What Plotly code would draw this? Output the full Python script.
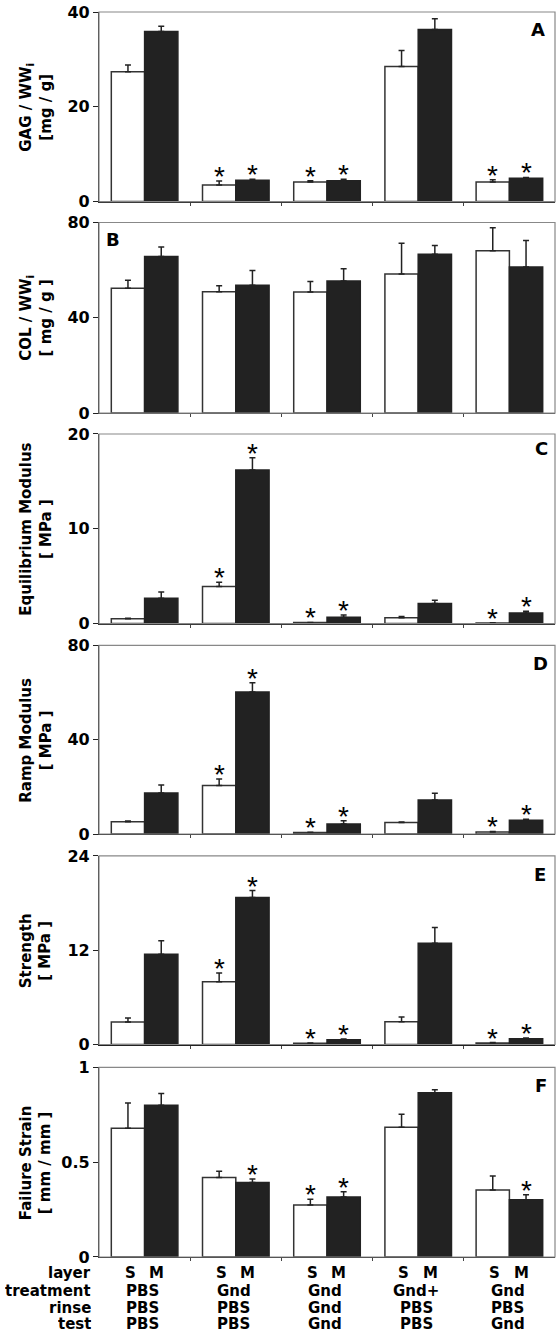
import plotly.graph_objects as go

# ---------------- data ----------------
categories = [0, 1, 2, 3, 4]
layer_labels = ["S", "M"]
treatment = ["PBS", "Gnd", "Gnd", "Gnd+", "Gnd"]
rinse = ["PBS", "PBS", "Gnd", "PBS", "PBS"]
test = ["PBS", "PBS", "Gnd", "PBS", "Gnd"]

gag_s = [27.4, 3.5, 4.1, 28.5, 4.1]
gag_s_sd = [1.4, 0.85, 0.3, 3.4, 0.5]
gag_m = [35.9, 4.5, 4.4, 36.3, 4.9]
gag_m_sd = [1.1, 0.2, 0.3, 2.3, 0.2]

col_s = [52.4, 50.9, 50.8, 58.4, 68.1]
col_s_sd = [3.4, 2.5, 4.4, 12.9, 9.7]
col_m = [65.7, 53.6, 55.4, 66.7, 61.3]
col_m_sd = [4.0, 6.2, 5.2, 3.6, 11.1]

eq_s = [0.5, 3.9, 0.1, 0.6, 0.05]
eq_s_sd = [0.05, 0.45, 0.02, 0.15, 0.02]
eq_m = [2.66, 16.2, 0.66, 2.1, 1.1]
eq_m_sd = [0.67, 1.3, 0.24, 0.35, 0.2]

ramp_s = [5.2, 20.6, 0.6, 4.9, 0.9]
ramp_s_sd = [0.3, 2.7, 0.1, 0.2, 0.2]
ramp_m = [17.4, 60.3, 4.2, 14.4, 5.8]
ramp_m_sd = [3.4, 3.9, 1.4, 2.9, 0.5]

str_s = [2.88, 8.0, 0.15, 2.9, 0.2]
str_s_sd = [0.5, 1.1, 0.05, 0.6, 0.05]
str_m = [11.5, 18.7, 0.6, 12.9, 0.72]
str_m_sd = [1.7, 0.9, 0.1, 2.0, 0.1]

fs_s = [0.679, 0.42, 0.275, 0.684, 0.353]
fs_s_sd = [0.133, 0.033, 0.03, 0.069, 0.075]
fs_m = [0.80, 0.393, 0.316, 0.867, 0.302]
fs_m_sd = [0.062, 0.019, 0.028, 0.016, 0.026]

sig_a_s = [0, 1, 1, 0, 1]; sig_a_m = [0, 1, 1, 0, 1]
sig_b_s = [0, 0, 0, 0, 0]; sig_b_m = [0, 0, 0, 0, 0]
sig_c_s = [0, 1, 1, 0, 1]; sig_c_m = [0, 1, 1, 0, 1]
sig_d_s = [0, 1, 1, 0, 1]; sig_d_m = [0, 1, 1, 0, 1]
sig_e_s = [0, 1, 1, 0, 1]; sig_e_m = [0, 1, 1, 0, 1]
sig_f_s = [0, 0, 1, 0, 0]; sig_f_m = [0, 1, 1, 0, 1]

ytitles = [
    "GAG / WW<sub>i</sub><br>[mg / g]",
    "COL / WW<sub>i</sub><br>[ mg / g ]",
    "Equilibrium Modulus<br>[ MPa ]",
    "Ramp Modulus<br>[ MPa ]",
    "Strength<br>[ MPa ]",
    "Failure Strain<br>[ mm / mm ]",
]
yticks = [[0, 20, 40], [0, 40, 80], [0, 10, 20], [0, 40, 80], [0, 12, 24], [0, 0.5, 1]]
yticktext = [["0", "20", "40"], ["0", "40", "80"], ["0", "10", "20"],
             ["0", "40", "80"], ["0", "12", "24"], ["0", "0.5", "1"]]
panel_letters = ["A", "B", "C", "D", "E", "F"]

panels = [
    (gag_s, gag_s_sd, gag_m, gag_m_sd, sig_a_s, sig_a_m),
    (col_s, col_s_sd, col_m, col_m_sd, sig_b_s, sig_b_m),
    (eq_s, eq_s_sd, eq_m, eq_m_sd, sig_c_s, sig_c_m),
    (ramp_s, ramp_s_sd, ramp_m, ramp_m_sd, sig_d_s, sig_d_m),
    (str_s, str_s_sd, str_m, str_m_sd, sig_e_s, sig_e_m),
    (fs_s, fs_s_sd, fs_m, fs_m_sd, sig_f_s, sig_f_m),
]

# ---------------- layout geometry ----------------
W, H = 558, 1342
ML, MR, MT, MB = 99, 3, 9, 85
PH = H - MT - MB
panel_px = [(9, 199), (220, 411), (432, 622), (644, 833), (855, 1044), (1067, 1257)]


def py(pix):
    return (H - MB - pix) / PH


def px(pix):
    return (pix - ML) / (W - ML - MR)


FONT = "DejaVu Sans, Verdana, sans-serif"
STAR_FONT = "Liberation Sans, Arial, sans-serif"
BARGAP = 0.27
half = (1 - BARGAP) / 4  # offset from category centre to bar centre

fig = go.Figure()
annotations = []
shapes = []

for k, (s, ssd, m, msd, sigs, sigm) in enumerate(panels):
    n = k + 1
    xa = "x" if n == 1 else f"x{n}"
    ya = "y" if n == 1 else f"y{n}"
    fig.add_trace(go.Bar(
        x=categories, y=s, name="S", xaxis=xa, yaxis=ya, showlegend=False,
        marker=dict(color="white", line=dict(color="#333", width=1.5)),
        error_y=dict(type="data", symmetric=False, array=ssd, arrayminus=[0] * len(ssd),
                     color="#222", thickness=1.5, width=3),
    ))
    fig.add_trace(go.Bar(
        x=categories, y=m, name="M", xaxis=xa, yaxis=ya, showlegend=False,
        marker=dict(color="#222", line=dict(color="#222", width=1.5)),
        error_y=dict(type="data", symmetric=False, array=msd, arrayminus=[0] * len(msd),
                     color="#222", thickness=1.5, width=3),
    ))
    top, bot = panel_px[k]
    lay_x = dict(domain=[0, 1], range=[-0.5, 4.5], anchor=ya, showgrid=False, zeroline=False,
                 showline=True, linecolor="#222", linewidth=1.2,
                 tickvals=[0.5, 1.5, 2.5, 3.5], ticks="outside", ticklen=3, tickcolor="#444",
                 showticklabels=False)
    lay_y = dict(domain=[py(bot), py(top)], range=[0, yticks[k][-1]], anchor=xa,
                 showgrid=False, zeroline=False, showline=True, linecolor="#222", linewidth=1.2,
                 tickvals=yticks[k], ticktext=yticktext[k], ticks="outside", ticklen=5,
                 tickcolor="#222",
                 tickfont=dict(family=FONT, size=16, color="black", weight="bold"))
    fig.layout[f"xaxis{'' if n == 1 else n}"] = lay_x
    fig.layout[f"yaxis{'' if n == 1 else n}"] = lay_y

    shapes.append(dict(type="rect", xref=f"{xa} domain", yref=f"{ya} domain",
                       x0=0, x1=1, y0=0, y1=1, line=dict(color="#888", width=1.2), layer="above"))

    # asterisks
    for i in categories:
        if sigs[i]:
            annotations.append(dict(x=i - half, y=s[i] + ssd[i], xref=xa, yref=ya, text="*",
                                    showarrow=False, yanchor="bottom", yshift=-13,
                                    font=dict(family=STAR_FONT, size=28, color="black")))
        if sigm[i]:
            annotations.append(dict(x=i + half, y=m[i] + msd[i], xref=xa, yref=ya, text="*",
                                    showarrow=False, yanchor="bottom", yshift=-13,
                                    font=dict(family=STAR_FONT, size=28, color="black")))

    # y title
    annotations.append(dict(x=px(36), y=(py(bot) + py(top)) / 2, xref="paper", yref="paper",
                            text=ytitles[k], textangle=-90, showarrow=False,
                            xanchor="center", yanchor="middle",
                            font=dict(family=FONT, size=15, color="black", weight="bold")))

# panel letters
letter_pos = [(538, 27), (113, 237), (541, 447), (540, 662), (540, 874), (541, 1085)]
for k, (lx, ly) in enumerate(letter_pos):
    annotations.append(dict(x=px(lx), y=py(ly), xref="paper", yref="paper",
                            text=panel_letters[k], showarrow=False,
                            xanchor="center", yanchor="middle",
                            font=dict(family=FONT, size=18, color="black", weight="bold")))

# bottom table
row_names = ["layer", "treatment", "rinse", "test"]
row_y = [1273, 1291, 1308, 1324]
tbl_font = dict(family=FONT, size=15, color="black", weight="bold")
for name, yy in zip(row_names, row_y):
    annotations.append(dict(x=px(92), y=py(yy), xref="paper", yref="paper", text=name,
                            showarrow=False, xanchor="right", yanchor="middle",
                            height=16, borderpad=0, font=tbl_font))
for i in categories:
    for j, lab in enumerate(layer_labels):
        annotations.append(dict(x=i + (-0.16 if j == 0 else 0.13), y=py(row_y[0]),
                                xref="x6", yref="paper", text=lab, showarrow=False,
                                xanchor="center", yanchor="middle",
                                height=16, borderpad=0, font=tbl_font))
    for rowvals, yy in zip([treatment, rinse, test], row_y[1:]):
        annotations.append(dict(x=i - 0.02, y=py(yy), xref="x6", yref="paper", text=rowvals[i],
                                showarrow=False, xanchor="center", yanchor="middle",
                                height=16, borderpad=0, font=tbl_font))

fig.update_layout(
    width=W, height=H, margin=dict(l=ML, r=MR, t=MT, b=MB),
    barmode="group", bargap=BARGAP, bargroupgap=0,
    plot_bgcolor="white", paper_bgcolor="white",
    annotations=annotations, shapes=shapes, showlegend=False,
)

fig.write_html(
    "out.html",
    config={"displayModeBar": False},
    post_script="document.body.style.margin='0';"
                "document.body.style.overflow='hidden';"
                "document.documentElement.style.overflow='hidden';",
)
